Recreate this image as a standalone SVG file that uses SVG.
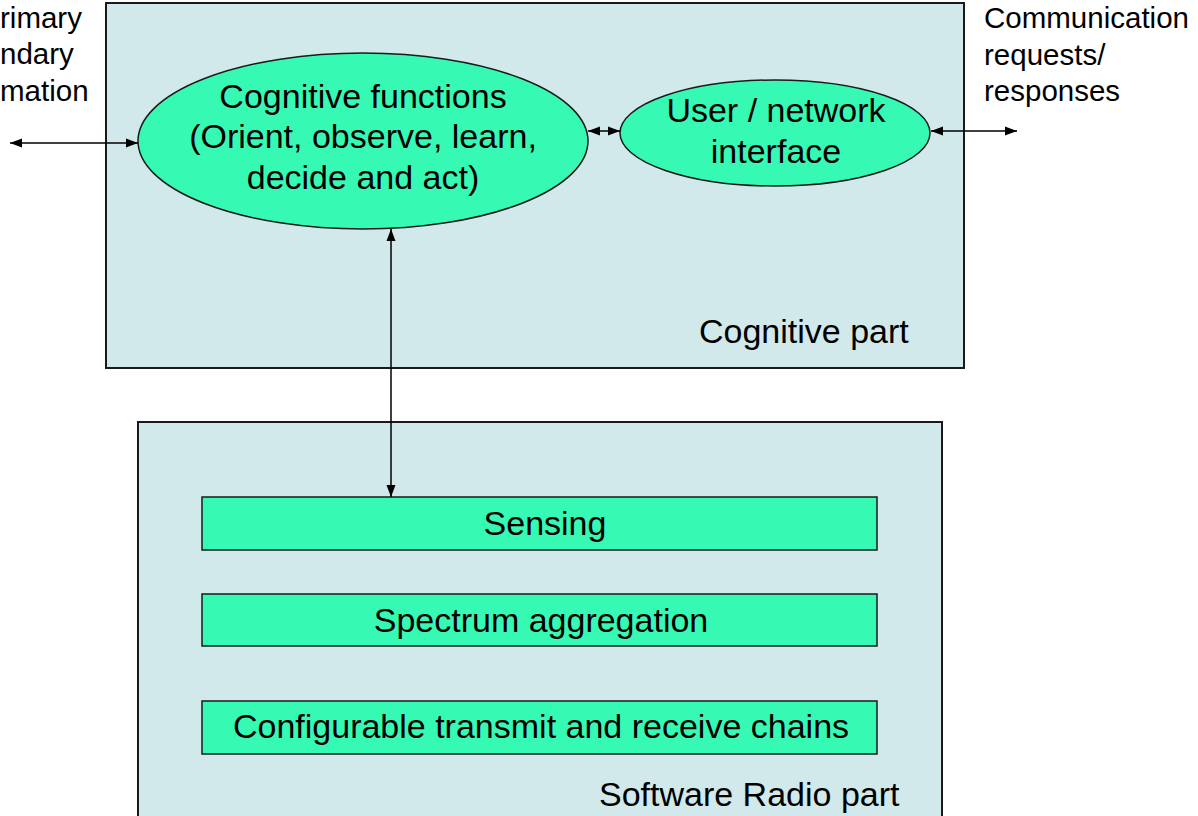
<svg xmlns="http://www.w3.org/2000/svg" width="1198" height="816" viewBox="0 0 1198 816">
<style>
.part{fill:#d1e9ea;stroke:#1a1a1a;stroke-width:2}
.node{fill:#36fab4;stroke:#1a1a1a;stroke-width:1.5}
.t{font-family:"Liberation Sans",Arial,sans-serif;fill:#000}
.big{font-size:34px}
.sm{font-size:29.5px}
.c{text-anchor:middle}
.conn{stroke:#000;stroke-width:1.5;fill:none;marker-start:url(#ah);marker-end:url(#ah)}
</style>
<defs>
<marker id="ah" viewBox="0 0 12 10" refX="12" refY="5" markerWidth="12" markerHeight="10" markerUnits="userSpaceOnUse" orient="auto-start-reverse">
<path d="M0,0.5 L12,5 L0,9.5 Z" fill="#000"/>
</marker>
</defs>
<rect width="1198" height="816" fill="#fff"/>
<g id="cognitive-part">
<rect class="part" x="106" y="3" width="858" height="365"/>
<text class="t big" x="699" y="343">Cognitive part</text>
</g>
<g id="software-radio-part">
<rect class="part" x="138" y="422" width="804" height="400"/>
<text class="t big" x="599" y="806">Software Radio part</text>
</g>
<g id="cognitive-functions">
<ellipse class="node" cx="363" cy="141" rx="225" ry="88"/>
<text class="t big c" x="363" y="108">Cognitive functions</text>
<text class="t big c" x="363" y="148">(Orient, observe, learn,</text>
<text class="t big c" x="363" y="189">decide and act)</text>
</g>
<g id="user-network-interface">
<ellipse class="node" cx="775" cy="133" rx="155" ry="53"/>
<text class="t big c" x="776" y="122">User / network</text>
<text class="t big c" x="776" y="163">interface</text>
</g>
<g id="sensing">
<rect class="node" x="202" y="497" width="675" height="53"/>
<text class="t big c" x="545" y="535">Sensing</text>
</g>
<g id="spectrum-aggregation">
<rect class="node" x="202" y="594" width="675" height="52"/>
<text class="t big c" x="541" y="632">Spectrum aggregation</text>
</g>
<g id="chains">
<rect class="node" x="202" y="701" width="675" height="53"/>
<text class="t big c" x="541" y="738">Configurable transmit and receive chains</text>
</g>
<g id="left-label">
<text class="t sm" x="0" y="28">rimary</text>
<text class="t sm" x="0" y="64">ndary</text>
<text class="t sm" x="0" y="101">mation</text>
</g>
<g id="right-label">
<text class="t sm" x="984" y="28">Communication</text>
<text class="t sm" x="984" y="65">requests/</text>
<text class="t sm" x="984" y="101">responses</text>
</g>
<g id="connectors">
<line class="conn" x1="10" y1="143" x2="138" y2="143"/>
<line class="conn" x1="588" y1="131" x2="620" y2="131"/>
<line class="conn" x1="931" y1="131" x2="1017" y2="131"/>
<line class="conn" x1="391" y1="229" x2="391" y2="497"/>
</g>
</svg>
